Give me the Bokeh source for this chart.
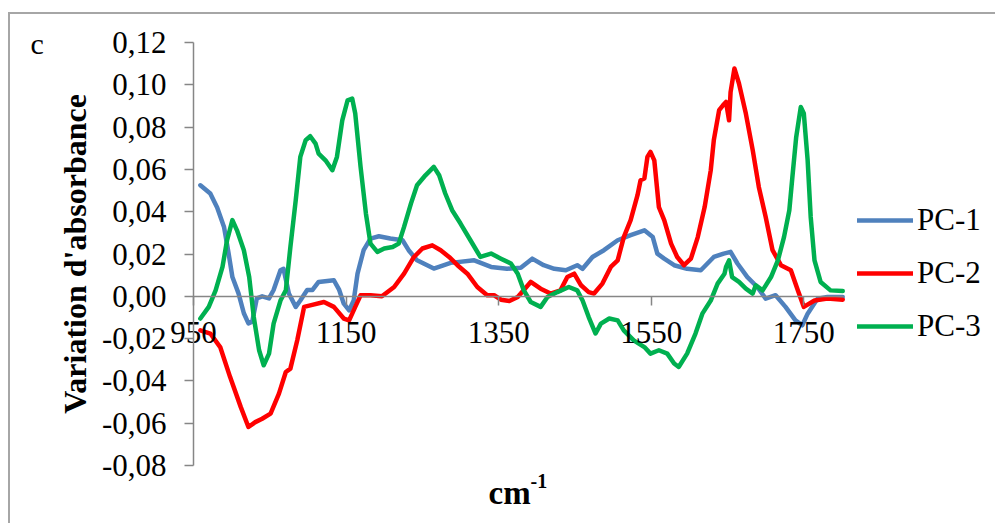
from bokeh.plotting import figure
from bokeh.models import Range1d, FixedTicker, CustomJSTickFormatter, Legend, LegendItem, Label
from bokeh.embed import file_html
from bokeh.resources import INLINE

# ---------------- data ----------------
wn_pc1 = [959, 972, 981, 990, 996, 1001, 1009, 1016, 1022, 1027, 1033, 1040, 1049, 1055, 1064, 1068,
          1075, 1084, 1090, 1099, 1106, 1114, 1134, 1141, 1147, 1154, 1160, 1165, 1173, 1182, 1193,
          1208, 1224, 1232, 1243, 1265, 1287, 1318, 1340, 1361, 1379, 1394, 1409, 1423, 1438, 1453,
          1460, 1473, 1488, 1506, 1523, 1541, 1552, 1558, 1567, 1580, 1597, 1615, 1632, 1645, 1654,
          1663, 1676, 1689, 1700, 1713, 1726, 1739, 1748, 1755, 1768, 1781, 1801]
pc1 = [0.0525, 0.0486, 0.042, 0.0328, 0.0203, 0.0091, 0.0014, -0.008, -0.0128, -0.012, -0.001, 0.0,
       -0.001, 0.003, 0.0123, 0.013, 0.0013, -0.005, -0.002, 0.003, 0.003, 0.0068, 0.0076, 0.003,
       -0.0035, -0.0066, -0.002, 0.0107, 0.0218, 0.0273, 0.0284, 0.0273, 0.0265, 0.0218, 0.017,
       0.0131, 0.0158, 0.017, 0.0139, 0.013, 0.0135, 0.0178, 0.0147, 0.013, 0.0123, 0.0147, 0.013,
       0.0186, 0.0218, 0.0265, 0.0289, 0.0312, 0.028, 0.0202, 0.0178, 0.0147, 0.013, 0.0123, 0.0186,
       0.0202, 0.021, 0.0155, 0.0091, 0.0044, -0.0011, 0.0005, -0.005, -0.0114, -0.0137, -0.0082,
       -0.0011, -0.0003, -0.0003]

wn_pc2 = [959, 972, 985, 998, 1012, 1022, 1031, 1040, 1051, 1062, 1071, 1077, 1086, 1095, 1103, 1121,
          1134, 1147, 1154, 1162, 1169, 1182, 1197, 1213, 1226, 1239, 1250, 1263, 1274, 1285, 1296,
          1309, 1322, 1335, 1344, 1353, 1364, 1375, 1379, 1392, 1405, 1418, 1431, 1440, 1449, 1458,
          1468, 1475, 1486, 1497, 1506, 1514, 1523, 1532, 1536, 1541, 1545, 1549, 1554, 1560, 1567,
          1576, 1584, 1593, 1602, 1611, 1620, 1628, 1632, 1639, 1644, 1648, 1652, 1654, 1659, 1665,
          1674, 1683, 1691, 1700, 1709, 1720, 1733, 1742, 1750, 1764, 1781, 1801]
pc2 = [-0.0161, -0.0176, -0.024, -0.0382, -0.0524, -0.0618, -0.0595, -0.0579, -0.0555, -0.046,
       -0.0358, -0.0342, -0.0208, -0.005, -0.0043, -0.0027, -0.005, -0.0105, -0.0114, -0.005, 0.0005,
       0.0005, 0.0, 0.0044, 0.0107, 0.0186, 0.0226, 0.0241, 0.0218, 0.0186, 0.0147, 0.0107, 0.0044,
       0.0005, 0.0005, -0.0016, -0.0022, -0.0003, 0.0013, 0.0068, 0.0036, 0.0013, 0.0028, 0.0091,
       0.0107, 0.0052, 0.002, 0.0013, 0.006, 0.0139, 0.017, 0.028, 0.036, 0.0478, 0.0549, 0.0557,
       0.0659, 0.0683, 0.0643, 0.0422, 0.036, 0.0249, 0.0186, 0.0147, 0.0178, 0.028, 0.0422, 0.0596,
       0.0738, 0.088, 0.0903, 0.0919, 0.0832, 0.0966, 0.1077, 0.1006, 0.0864, 0.0691, 0.0517, 0.0375,
       0.0218, 0.0147, 0.0123, 0.003, -0.005, -0.002, -0.0011, -0.0016]

wn_pc3 = [959, 970, 979, 988, 994, 1001, 1007, 1016, 1023, 1029, 1036, 1042, 1049, 1055, 1064, 1071,
          1077, 1084, 1090, 1097, 1103, 1110, 1114, 1123, 1132, 1138, 1145, 1152, 1158, 1162, 1169,
          1176, 1182, 1191, 1200, 1211, 1219, 1226, 1235, 1243, 1254, 1265, 1272, 1280, 1289, 1300,
          1313, 1326, 1340, 1353, 1366, 1375, 1383, 1392, 1405, 1414, 1427, 1442, 1453, 1460, 1468,
          1477, 1484, 1495, 1506, 1514, 1527, 1541, 1549, 1560, 1571, 1580, 1586, 1597, 1608, 1617,
          1628, 1637, 1646, 1648, 1652, 1656, 1665, 1674, 1683, 1687, 1696, 1707, 1716, 1724, 1731,
          1735, 1740, 1746, 1750, 1755, 1759, 1764, 1772, 1785, 1801]
pc3 = [-0.0105, -0.005, 0.0028, 0.0139, 0.0265, 0.036, 0.0312, 0.0218, 0.0091, -0.0098, -0.0255,
       -0.0326, -0.0271, -0.0129, -0.002, 0.0028, 0.0233, 0.0454, 0.0659, 0.0738, 0.0757, 0.0722,
       0.0675, 0.0643, 0.0596, 0.0659, 0.0832, 0.0927, 0.0935, 0.0864, 0.0612, 0.0391, 0.0249, 0.021,
       0.0226, 0.0233, 0.0249, 0.0328, 0.0438, 0.0525, 0.0572, 0.0612, 0.0572, 0.0486, 0.0407, 0.0344,
       0.0265, 0.0186, 0.0202, 0.0178, 0.0155, 0.0107, 0.0028, -0.0027, -0.005, -0.0003, 0.002,
       0.0044, 0.0028, -0.002, -0.0098, -0.0176, -0.0129, -0.0105, -0.0114, -0.0161, -0.0208, -0.024,
       -0.0271, -0.0255, -0.0271, -0.0318, -0.0334, -0.0271, -0.0176, -0.0082, -0.002, 0.006, 0.0107,
       0.0139, 0.017, 0.0091, 0.0068, 0.0036, 0.0013, 0.0052, 0.0028, 0.0091, 0.017, 0.028, 0.0407,
       0.0564, 0.0753, 0.0895, 0.0864, 0.0643, 0.0375, 0.017, 0.0068, 0.0028, 0.0025]

x_ticks = [950, 1150, 1350, 1550, 1750]
y_ticks = [-0.08, -0.06, -0.04, -0.02, 0.0, 0.02, 0.04, 0.06, 0.08, 0.10, 0.12]
series_names = ["PC-1", "PC-2", "PC-3"]
series_colors = ["#4F81BD", "#FF0000", "#00B050"]

FONT = "Liberation Serif"
GRAY = "#868686"

# axis extents (data) and where they sit on the canvas (pixels)
x0, x1 = 950, 1802
y0, y1 = -0.08, 0.12
W, H = 987, 511
ax_left, ax_right = 183, 833      # canvas px of x0, x1
ax_top, ax_bottom = 28, 451       # canvas px of y1, y0
sx = (ax_right - ax_left) / (x1 - x0)
sy = (ax_bottom - ax_top) / (y1 - y0)
xr = Range1d(x0 - ax_left / sx, x0 + (W - ax_left) / sx)
yr = Range1d(y0 - (H - ax_bottom) / sy, y1 + ax_top / sy)

def cx(px):  # canvas px -> data x (for annotation placement)
    return x0 + (px - ax_left) / sx

def cy(py):  # canvas px -> data y
    return y0 + (ax_bottom - py) / sy

p = figure(width=W, height=H, x_range=xr, y_range=yr,
           output_backend="svg", toolbar_location=None,
           min_border=0, background_fill_color="white", border_fill_color="white")
p.styles = {"border-top": "2px solid #a6a6a6", "border-left": "2px solid #a6a6a6",
            "margin-top": "12px", "margin-left": "8px"}
p.outline_line_color = None
p.xgrid.visible = False
p.ygrid.visible = False

renderers = []
for xs, ys, c in zip([wn_pc1, wn_pc2, wn_pc3], [pc1, pc2, pc3], series_colors):
    r = p.line(xs, ys, line_color=c, line_width=4.5, line_join="round", line_cap="round")
    renderers.append(r)

# x axis crossing at y = 0
xa = p.xaxis[0]
xa.fixed_location = 0
xa.bounds = (x0, x1)
xa.ticker = FixedTicker(ticks=x_ticks)
xa.axis_line_color = GRAY
xa.axis_line_width = 1.5
xa.major_tick_line_color = GRAY
xa.major_tick_line_width = 1.5
xa.major_tick_out = 9
xa.major_tick_in = 0
xa.minor_tick_line_color = None
xa.major_label_text_font = FONT
xa.major_label_text_font_size = "31px"
xa.major_label_text_color = "black"
xa.major_label_standoff = 17

ya = p.yaxis[0]
ya.fixed_location = x0
ya.bounds = (y0, y1)
ya.ticker = FixedTicker(ticks=y_ticks)
ya.formatter = CustomJSTickFormatter(code="return tick.toFixed(2).replace('.', ',');")
ya.axis_line_color = GRAY
ya.axis_line_width = 1.5
ya.major_tick_line_color = GRAY
ya.major_tick_line_width = 1.5
ya.major_tick_out = 9
ya.major_tick_in = 0
ya.minor_tick_line_color = None
ya.major_label_text_font = FONT
ya.major_label_text_font_size = "31px"
ya.major_label_text_color = "black"
ya.major_label_standoff = 18
ya.axis_label = "Variation d'absorbance"
ya.axis_label_text_font = FONT
ya.axis_label_text_font_size = "32px"
ya.axis_label_text_font_style = "bold"
ya.axis_label_text_color = "black"
ya.axis_label_standoff = 6

legend = Legend(items=[LegendItem(label=n, renderers=[r]) for n, r in zip(series_names, renderers)],
                location=(847, 181), margin=0, padding=0, spacing=17,
                glyph_width=56, glyph_height=20, label_standoff=4,
                label_text_font=FONT, label_text_font_size="31px", label_text_color="black",
                border_line_color=None, background_fill_alpha=0)
p.add_layout(legend)

p.add_layout(Label(x=cx(478), y=cy(478), text="cm",
                   text_font=FONT, text_font_size="33px", text_font_style="bold",
                   text_align="left", text_baseline="alphabetic", text_color="black"))
p.add_layout(Label(x=cx(520), y=cy(466), text="-1",
                   text_font=FONT, text_font_size="20px", text_font_style="bold",
                   text_align="left", text_baseline="alphabetic", text_color="black"))
p.add_layout(Label(x=cx(20), y=cy(29), text="c",
                   text_font=FONT, text_font_size="30px",
                   text_align="left", text_baseline="alphabetic", text_color="black"))

open("out.html", "w").write(file_html(p, INLINE))
